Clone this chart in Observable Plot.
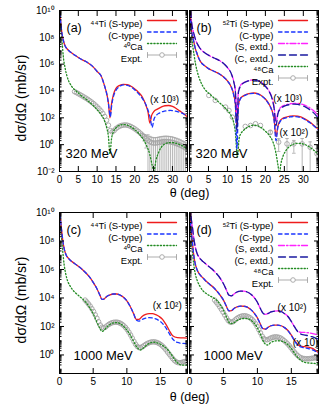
<!DOCTYPE html>
<html><head><meta charset="utf-8">
<script src="https://cdn.jsdelivr.net/npm/d3@7"></script>
<script src="https://cdn.jsdelivr.net/npm/@observablehq/plot@0.6"></script>
<style>
body{margin:0;background:#fff;}
#fig{position:relative;width:329px;height:413px;background:#fff;overflow:hidden;}
#fig svg{position:absolute;left:0;}
</style></head><body><div id="fig"></div>
<script>
// ===== DATA: values, given as log10 of dσ/dΩ (mb/sr), scale factors included =====
// ---- panel (a) 320 MeV, 44Ti / 40Ca ----
const aThetaS = [0,0.3,0.6,1,1.5,2,2.5,3,4,5,6,7,8,9,10,11,12,12.5,13,13.4,13.8,14.3,15,16,17,18,19,20,21,22,23,23.5,24,24.5,25,26,27,28,29,30,31,32,33,34];
const aTiS = [10.3,9.2,8.4,7.8,7.35,7.15,7.0,6.88,6.68,6.5,6.33,6.2,6.02,5.78,5.45,5.15,4.35,3.85,3.1,2.0,3.0,3.7,4.2,4.42,4.5,4.47,4.35,4.15,3.9,3.55,2.9,2.45,1.6,2.2,2.45,2.65,2.8,2.9,2.92,2.85,2.7,2.5,2.3,2.05];
const aThetaC = [0,0.3,0.6,1,1.5,2,2.5,3,4,5,6,7,8,9,10,11,12,12.5,13,13.5,13.9,14.4,15,16,17,18,19,20,21,22,23,23.6,24.1,24.6,25.1,25.6,26.5,27.5,28.5,29.5,30.5,31.5,32.5,33.5,34];
const aTiC = [10.3,9.2,8.4,7.8,7.35,7.15,7.0,6.88,6.68,6.5,6.33,6.2,6.02,5.78,5.45,5.15,4.35,3.85,3.05,2.1,3.0,3.65,4.05,4.35,4.45,4.42,4.3,4.08,3.8,3.45,2.95,2.5,2.0,1.3,1.9,2.15,2.35,2.47,2.53,2.55,2.52,2.45,2.35,2.22,2.17];
const aThetaCa = [0,0.2,0.4,0.7,1,1.5,2,2.5,3,3.5,4,5,6,7,8,9,10,11,12,12.5,13,13.4,13.8,14.3,15,16,17,18,19,20,21,22,23,24,24.6,25.1,25.6,26.3,27,28,29,30,31,32,33,34];
const aCa = [10.2,9.3,8.5,7.6,6.6,5.7,5.1,4.7,4.45,4.25,4.1,3.85,3.6,3.4,3.15,2.9,2.6,2.25,1.75,1.3,0.6,-0.7,0.4,0.95,1.25,1.45,1.5,1.45,1.32,1.12,0.85,0.5,0.0,-0.75,-1.5,-1.95,-1.2,-0.6,-0.2,0.05,0.15,0.15,0.1,0.0,-0.15,-0.35];
const aExpTheta = [4,4.5,5,5.5,6,6.5,7,7.5,8,8.5,9,9.5,10,10.5,11,11.5,12,12.5,13,13.5,14,14.5,15,15.5,16,16.5,17,17.5,18,18.5,19,19.5,20,20.5,21,21.5,22,22.5,23,23.5,24,24.5,25,25.5,26,26.5,27,27.5,28,28.5,29,29.5,30,30.5,31,31.5,32,32.5,33,33.5,34];
const aExp = [3.95,3.88,3.8,3.72,3.64,3.55,3.47,3.38,3.28,3.18,3.07,2.95,2.82,2.68,2.52,2.33,2.1,1.82,1.45,1.05,0.95,1.05,1.2,1.3,1.38,1.43,1.46,1.47,1.45,1.41,1.35,1.27,1.18,1.08,0.97,0.85,0.72,0.58,0.45,0.33,0.22,0.15,0.12,0.12,0.14,0.17,0.2,0.22,0.23,0.23,0.22,0.2,0.17,0.13,0.08,0.03,-0.03,-0.1,-0.17,-0.25,-0.3];
const aExpRelErr = [0.1,0.1,0.1,0.1,0.1,0.1,0.1,0.1,0.1,0.1,0.1,0.1,0.1,0.1,0.1,0.1,0.1,0.1,0.1,0.1,0.1,0.1,0.1,0.1,0.1,0.1,0.1,0.1,0.1,0.1,0.1,0.1,0.1,0.1,0.15,0.2,0.3,0.5,0.8,1.5,1.5,1.5,1.5,1.5,1.5,1.5,1.5,1.5,1.5,1.5,1.5,1.5,1.5,1.5,1.5,1.5,1.5,1.5,1.5,1.5,1.5];

// ---- panel (b) 320 MeV, 52Ti / 48Ca ----
const bThetaTi = [0,0.3,0.6,1,1.5,2,2.5,3,4,5,6,7,8,9,10,11,11.6,12.1,12.5,12.9,13.4,14,15,16,17,18,19,20,21,21.8,22.3,22.8,23.3,23.8,24.5,25.5,26.5,27.5,28.5,29.5,30.5,31.5,32.5,33.5,34];
const bTiS  = [10.3,9.2,8.4,7.85,7.2,6.78,6.4,6.15,5.88,5.67,5.53,5.4,5.25,5.05,4.75,4.3,3.8,3.0,1.3,3.0,3.45,3.6,3.75,3.82,3.85,3.8,3.65,3.4,3.0,2.5,1.9,0.6,1.4,1.75,1.95,2.05,2.12,2.15,2.12,2.05,1.9,1.72,1.5,1.25,1.1];
const bTiC  = [10.3,9.2,8.4,7.85,7.2,6.78,6.4,6.15,5.88,5.67,5.53,5.4,5.25,5.05,4.75,4.3,3.75,2.9,-0.3,2.9,3.4,3.57,3.72,3.8,3.83,3.78,3.63,3.38,2.97,2.45,1.8,0.3,1.3,1.68,1.9,2.0,2.07,2.1,2.07,2.0,1.86,1.68,1.47,1.22,1.07];
const bTiSx = [10.8,9.9,9.0,8.45,7.9,7.55,7.3,7.1,6.85,6.67,6.52,6.4,6.25,6.05,5.75,5.3,4.8,4.0,2.3,4.0,4.4,4.57,4.72,4.8,4.83,4.78,4.63,4.38,3.98,3.45,2.8,1.7,2.4,2.7,2.87,2.98,3.05,3.08,3.07,3.02,2.93,2.78,2.58,2.3,2.12];
const bTiCx = [10.8,9.9,9.0,8.45,7.9,7.55,7.3,7.1,6.85,6.67,6.52,6.4,6.25,6.05,5.75,5.3,4.75,3.9,1.0,3.9,4.35,4.55,4.7,4.78,4.81,4.76,4.6,4.35,3.95,3.4,2.7,1.4,2.3,2.62,2.8,2.92,2.99,3.02,3.0,2.93,2.82,2.65,2.43,2.13,1.95];
const bThetaCa = [0,0.2,0.5,0.8,1.2,1.6,2,2.5,3,4,5,6,7,8,9,10,11,11.6,12.1,12.6,13.1,13.6,14,15,16,17,18,19,20,21,22,22.7,23.3,23.7,24.1,24.6,25.5,26.5,27.5,28.5,29.5,30.5,31.5,32.5,33.5,34];
const bCa = [10.3,9.3,8.3,7.5,6.7,6.0,5.5,5.0,4.65,4.15,3.85,3.6,3.35,3.1,2.85,2.55,2.15,1.7,0.9,-0.9,0.5,0.85,1.0,1.25,1.4,1.45,1.4,1.25,1.0,0.7,0.2,-0.5,-1.5,-2.2,-1.4,-0.9,-0.4,-0.1,0.05,0.1,0.08,0.0,-0.15,-0.35,-0.6,-0.75];
const bExpTheta = [5.1,6.8,9.5,10.4,11.3,14.7,16.1,17.4,18.7,21.3,23.5,25.7,27.5,29.7,31.8,33.6];
const bExp = [3.67,3.3,2.8,2.55,2.05,1.36,1.43,1.56,1.43,0.93,0.19,0.06,0.06,0.06,-0.19,-0.68];
const bExpRelErr = [0.1,0.1,0.1,0.1,0.1,0.1,0.1,0.1,0.1,0.3,0.8,1.5,0.8,1.5,1.5,1.5];

// ---- panel (c) 1000 MeV, 44Ti / 40Ca ----
const cThetaTi = [0,0.15,0.3,0.5,0.7,1,1.3,1.6,2,2.5,3,3.5,4,4.5,5,5.5,6,6.3,6.6,7,7.5,8,8.5,9,9.5,10,10.5,11,11.4,11.8,12.3,12.8,13.3,13.8,14.3,14.8,15.3,15.8,16.3,16.8,17.5,18.2,19];
const cTiS = [10.3,9.5,8.8,8.0,7.45,7.0,6.8,6.65,6.5,6.33,6.15,5.95,5.72,5.45,5.1,4.7,4.2,3.9,3.92,4.1,4.22,4.28,4.28,4.2,4.05,3.8,3.4,2.9,2.5,2.5,2.72,2.85,2.9,2.9,2.83,2.7,2.5,2.15,1.72,1.35,1.22,1.2,1.18];
const cTiC = [10.3,9.5,8.8,8.0,7.45,7.0,6.8,6.65,6.5,6.33,6.15,5.95,5.72,5.45,5.1,4.7,4.2,3.9,3.92,4.1,4.22,4.28,4.28,4.2,4.05,3.8,3.4,2.9,2.45,2.38,2.5,2.58,2.62,2.6,2.53,2.4,2.2,1.9,1.5,1.12,0.88,0.82,0.8];
const cThetaCa = [0,0.1,0.2,0.35,0.5,0.7,0.9,1.2,1.5,1.9,2.4,3,3.5,4,4.5,5,5.5,6,6.3,6.6,7,7.5,8,8.5,9,9.5,10,10.5,11,11.5,12,12.5,13,13.5,14,14.5,15,15.5,16,16.5,17,17.5,18,18.5,19];
const cCa = [10.2,9.6,8.9,8.0,7.2,6.3,5.75,5.2,4.9,4.6,4.35,4.1,3.9,3.65,3.3,2.9,2.35,1.85,1.65,1.72,1.95,2.15,2.25,2.27,2.2,2.02,1.75,1.4,0.95,0.55,0.35,0.5,0.72,0.85,0.9,0.85,0.75,0.6,0.4,0.1,-0.25,-0.55,-0.7,-0.72,-0.72];
const cExpTheta = [3.8,4.05,4.3,4.55,4.8,5.05,5.3,5.55,5.8,6.05,6.3,6.55,6.8,7.05,7.3,7.55,7.8,8.05,8.3,8.55,8.8,9.05,9.3,9.55,9.8,10.05,10.3,10.55,10.8,11.05,11.3,11.55,11.8,12.05,12.3,12.55,12.8,13.05,13.3,13.55,13.8,14.05,14.3,14.55,14.8,15.05,15.3,15.55,15.8,16.05,16.3,16.55,16.8,17.05,17.3,17.55,17.8,18.05,18.3,18.55,18.8];
const cExp = [3.85,3.72,3.58,3.43,3.25,3.05,2.82,2.58,2.33,2.1,1.95,1.9,1.95,2.05,2.14,2.21,2.26,2.29,2.3,2.3,2.27,2.22,2.15,2.05,1.93,1.78,1.6,1.4,1.18,0.95,0.75,0.6,0.52,0.52,0.58,0.66,0.74,0.81,0.86,0.9,0.92,0.92,0.9,0.86,0.8,0.72,0.62,0.5,0.36,0.2,0.05,-0.1,-0.25,-0.38,-0.48,-0.53,-0.55,-0.54,-0.5,-0.47,-0.45];

// ---- panel (d) 1000 MeV, 52Ti / 48Ca ----
const dThetaTi = [0,0.15,0.3,0.45,0.6,0.8,1.1,1.5,2,2.5,3,3.5,4,4.5,5,5.4,5.8,6.2,6.6,7,7.5,8,8.5,9,9.5,10,10.4,10.8,11.2,11.6,12,12.5,13,13.5,14,14.5,15,15.5,16,16.5,17,17.5,18,18.5,19];
const dTiS  = [10.2,9.3,8.5,7.8,7.1,6.5,6.0,5.65,5.4,5.15,4.95,4.75,4.5,4.2,3.85,3.45,3.1,3.12,3.28,3.38,3.43,3.42,3.36,3.2,2.95,2.6,2.2,1.85,1.82,1.95,2.05,2.1,2.1,2.05,1.92,1.72,1.4,1.0,0.7,0.6,0.58,0.55,0.48,0.35,0.15];
const dTiC  = [10.2,9.3,8.5,7.8,7.1,6.5,6.0,5.65,5.4,5.15,4.95,4.75,4.5,4.2,3.85,3.45,3.1,3.12,3.28,3.38,3.43,3.42,3.36,3.2,2.95,2.6,2.2,1.85,1.82,1.95,2.05,2.1,2.1,2.05,1.92,1.7,1.37,0.97,0.67,0.55,0.5,0.45,0.38,0.27,0.12];
const dTiSx = [10.5,10.0,9.4,8.9,8.3,7.7,7.15,6.8,6.55,6.35,6.15,5.95,5.7,5.4,5.0,4.6,4.2,4.15,4.3,4.42,4.48,4.48,4.42,4.28,4.05,3.7,3.3,2.95,2.85,2.92,3.02,3.08,3.1,3.05,2.9,2.7,2.35,1.95,1.65,1.58,1.58,1.56,1.52,1.47,1.4];
const dTiCx = [10.5,10.0,9.4,8.9,8.3,7.7,7.15,6.8,6.55,6.35,6.15,5.95,5.7,5.4,5.0,4.6,4.2,4.15,4.3,4.42,4.48,4.48,4.42,4.28,4.05,3.7,3.3,2.95,2.85,2.92,3.02,3.08,3.1,3.05,2.9,2.7,2.35,1.95,1.6,1.45,1.4,1.35,1.28,1.2,1.12];
const dThetaCa = [0,0.1,0.2,0.35,0.5,0.7,0.9,1.2,1.5,2,2.5,3,3.5,4,4.5,5,5.5,6,6.5,7,7.5,8,8.5,9,9.5,10,10.5,11,11.5,12,12.5,13,13.5,14,14.5,15,15.5,16,16.5,17,17.5,18,18.5,19];
const dCa = [10.2,9.4,8.6,7.7,6.9,6.1,5.6,5.15,4.85,4.5,4.3,4.15,4.02,3.85,3.55,3.15,2.6,2.2,2.25,2.42,2.52,2.56,2.55,2.45,2.25,1.9,1.4,0.85,0.7,0.88,0.97,1.0,0.98,0.9,0.72,0.45,0.1,-0.2,-0.42,-0.52,-0.56,-0.58,-0.6,-0.62];
const dExpTheta = [3.7,3.95,4.2,4.45,4.7,4.95,5.2,5.45,5.7,5.95,6.2,6.45,6.7,6.95,7.2,7.45,7.7,7.95,8.2,8.45,8.7,8.95,9.2,9.45,9.7,9.95,10.2,10.45,10.7,10.95,11.2,11.45,11.7,11.95,12.2,12.45,12.7,12.95,13.2,13.45,13.7,13.95,14.2,14.45,14.7,14.95,15.2,15.45,15.7,15.95,16.2,16.45,16.7,16.95,17.2,17.45,17.7,17.95,18.2,18.45,18.7,18.95];
const dExp = [3.85,3.7,3.55,3.38,3.2,3.0,2.8,2.6,2.42,2.32,2.3,2.35,2.45,2.55,2.63,2.69,2.73,2.75,2.75,2.72,2.67,2.6,2.5,2.37,2.2,2.0,1.78,1.55,1.32,1.15,1.07,1.07,1.12,1.18,1.23,1.26,1.27,1.26,1.23,1.18,1.1,1.0,0.9,0.78,0.65,0.5,0.35,0.2,0.07,-0.05,-0.14,-0.2,-0.24,-0.26,-0.27,-0.27,-0.26,-0.24,-0.22,-0.2,-0.2,-0.2];

// ---- axes / annotations ----
const xTicks320 = [0,5,10,15,20,25,30];
const xTicks1000 = [0,5,10,15];
const yTicks320 = [1e-2,1,1e2,1e4,1e6,1e8,1e10];
const yTicks1000 = [1,1e2,1e4,1e6,1e8,1e10];
const legendTi44 = ["⁴⁴Ti (S-type)","(C-type)","⁴⁰Ca","Expt."];
const legendTi52 = ["⁵²Ti (S-type)","(C-type)","(S, extd.)","(C, extd.)","⁴⁸Ca","Expt."];
const aNoteLabel = ["(x 10³)"], aNoteTheta = [27.9], aNoteLog = [3.37];
const bNoteLabel = ["(x 10³)","(x 10²)"], bNoteTheta = [25.9,27.5], bNoteLog = [3.44,0.91];
const cNoteLabel = ["(x 10²)"], cNoteTheta = [16.0], cNoteLog = [3.47];
const dNoteLabel = ["(x 10²)","(x 10)"], dNoteTheta = [15.1,17.1], dNoteLog = [3.33,0.88];

// ===== rendering =====
const FONT = "'Liberation Sans', Arial, Helvetica, sans-serif";
const gray = "#a4a4a4";
const styles = {
  S:  {stroke: "#ee1c1c", strokeWidth: 1.3},
  C:  {stroke: "#1a35ff", strokeWidth: 1.3, strokeDasharray: "3.5,3"},
  Sx: {stroke: "#ff22ff", strokeWidth: 1.3, strokeDasharray: "6,2,1.5,2"},
  Cx: {stroke: "#1a1aa0", strokeWidth: 1.3, strokeDasharray: "7,4"},
  Ca: {stroke: "#228b22", strokeWidth: 1.3, strokeDasharray: "1.2,2"}
};
const sup = {"-":"⁻","0":"⁰","1":"¹","2":"²","3":"³","4":"⁴","5":"⁵","6":"⁶","7":"⁷","8":"⁸","9":"⁹"};
const fmtPow = v => "10" + String(Math.round(Math.log10(v))).split("").map(c => sup[c]).join("");
const lineShape = {draw(ctx, l) { ctx.moveTo(0, 0); ctx.lineTo(0, -l); }};
const capSymbol = {draw(ctx, size) { const r = Math.sqrt(size / Math.PI); ctx.moveTo(-r, 0); ctx.lineTo(r, 0); }};
const rows = (theta, logs) => theta.map((t, i) => ({theta: t, v: 10 ** logs[i]}));
const expRows = (theta, logs, err) => theta.map((t, i) => ({theta: t, v: 10 ** logs[i], err: err ? err[i] : 0}));
const notes = (lab, th, lg) => lab.map((l, i) => ({label: l, theta: th[i], v: 10 ** lg[i]}));

function panel(cfg) {
  const [y0, y1] = cfg.yDomain;
  const minor = [];
  for (let e = Math.floor(Math.log10(y0)); e < 10; e++)
    for (let k = 1; k <= 9; k++) { const v = k * 10 ** e; if (v >= y0 && v <= y1 && !cfg.yTicks.includes(v)) minor.push(v); }
  const marks = [];
  const eb = cfg.exp.filter(d => d.err >= 0.3).map(d => ({theta: d.theta, hi: d.v * (1 + d.err), lo: Math.max(d.v * (1 - d.err), 1e-4)}));
  if (eb.length) {
    marks.push(Plot.ruleX(eb, {x: "theta", y1: "lo", y2: "hi", stroke: gray, strokeWidth: 0.8, clip: true}));
    marks.push(Plot.dot(eb, {x: "theta", y: "hi", symbol: capSymbol, r: 1.8, stroke: gray, fill: "none", strokeWidth: 0.8, clip: true}));
    marks.push(Plot.dot(eb, {x: "theta", y: "lo", symbol: capSymbol, r: 1.8, stroke: gray, fill: "none", strokeWidth: 0.8, clip: true}));
  }
  marks.push(Plot.dot(cfg.exp, {x: "theta", y: "v", r: 2.3, stroke: gray, strokeWidth: 0.9, fill: "none", clip: true}));
  for (const c of cfg.curves) marks.push(Plot.line(c.data, {x: "theta", y: "v", curve: "monotone-x", clip: true, ...styles[c.style]}));
  // frame and ticks
  marks.push(Plot.frame({stroke: "black", strokeWidth: 1}));
  marks.push(Plot.axisX(cfg.xTicks, {anchor: "bottom", tickSize: 0, tickPadding: 4, label: null, fontSize: 10}));
  for (const anchor of ["bottom", "top"]) marks.push(Plot.axisX(cfg.xTicks, {anchor, tickSize: -5, fill: "none", label: null}));
  if (cfg.yLabels) marks.push(Plot.axisY(cfg.yTicks, {anchor: "left", tickSize: 0, tickPadding: 5, tickFormat: fmtPow, label: null, fontSize: 10}));
  for (const anchor of ["left", "right"]) {
    marks.push(Plot.axisY(cfg.yTicks, {anchor, tickSize: -5, fill: "none", label: null}));
    marks.push(Plot.axisY(minor, {anchor, tickSize: -2.5, fill: "none", label: null}));
  }
  // legend
  cfg.legend.forEach((lab, i) => {
    const dy = 10 + i * 11.5;
    const st = cfg.legendStyles[i];
    marks.push(Plot.text([lab], {frameAnchor: "top-right", dx: -45, dy, text: d => d, textAnchor: "end", fontSize: 9.5}));
    if (st === "exp") {
      marks.push(Plot.vector([0], {frameAnchor: "top-right", dx: -40, dy, length: 29, rotate: 90, anchor: "start", shape: lineShape, stroke: gray, strokeWidth: 0.9}));
      marks.push(Plot.vector([0], {frameAnchor: "top-right", dx: -40, dy, length: 5, rotate: 0, anchor: "middle", shape: lineShape, stroke: gray, strokeWidth: 0.9}));
      marks.push(Plot.vector([0], {frameAnchor: "top-right", dx: -11, dy, length: 5, rotate: 0, anchor: "middle", shape: lineShape, stroke: gray, strokeWidth: 0.9}));
      marks.push(Plot.dot([0], {frameAnchor: "top-right", dx: -25.5, dy, r: 2.3, stroke: gray, fill: "white", strokeWidth: 0.9}));
    } else {
      marks.push(Plot.vector([0], {frameAnchor: "top-right", dx: -40, dy, length: 29, rotate: 90, anchor: "start", shape: lineShape, ...styles[st]}));
    }
  });
  marks.push(Plot.text([cfg.tag], {frameAnchor: "top-left", dx: 7, dy: 13, text: d => d, textAnchor: "start", fontSize: 12.5}));
  marks.push(Plot.text([cfg.energy], {frameAnchor: "bottom-left", dx: cfg.energyDx, dy: -14, text: d => d, textAnchor: "start", fontSize: 13}));
  marks.push(Plot.text(cfg.notes, {x: "theta", y: "v", text: "label", fontSize: 10, textAnchor: "middle"}));
  if (cfg.yLabels) marks.push(Plot.text(["dσ/dΩ (mb/sr)"], {frameAnchor: "left", dx: -38, dy: 7, rotate: -90, text: d => d, fontSize: 14, textAnchor: "middle"}));
  if (cfg.xLabelDy) marks.push(Plot.text(["θ (deg)"], {frameAnchor: "bottom-left", dy: cfg.xLabelDy, text: d => d, fontSize: 12.5, textAnchor: "middle"}));
  return Plot.plot({
    width: 329, height: cfg.height, marginLeft: cfg.ml, marginRight: cfg.mr, marginTop: 10, marginBottom: cfg.mb,
    x: {domain: cfg.xDomain, axis: null}, y: {type: "log", domain: cfg.yDomain, axis: null},
    style: {background: "transparent", fontFamily: FONT, fontSize: "10px", overflow: "visible", color: "black"},
    marks
  });
}

const ti44Styles = ["S", "C", "Ca", "exp"];
const ti52Styles = ["S", "C", "Sx", "Cx", "Ca", "exp"];
const panels = [
  {top: 0, height: 202, mb: 31, ml: 59, mr: 142, xDomain: [0, 34], xTicks: xTicks320, yDomain: [1e-2, 1e10], yTicks: yTicks320, yLabels: true,
   curves: [{data: rows(aThetaCa, aCa), style: "Ca"}, {data: rows(aThetaS, aTiS), style: "S"}, {data: rows(aThetaC, aTiC), style: "C"}],
   exp: expRows(aExpTheta, aExp, aExpRelErr), legend: legendTi44, legendStyles: ti44Styles, tag: "(a)", energy: "320 MeV", energyDx: 6,
   notes: notes(aNoteLabel, aNoteTheta, aNoteLog)},
  {top: 0, height: 202, mb: 31, ml: 189, mr: 11, xDomain: [0, 34], xTicks: xTicks320, yDomain: [1e-2, 1e10], yTicks: yTicks320, yLabels: false, xLabelDy: 25,
   curves: [{data: rows(bThetaCa, bCa), style: "Ca"}, {data: rows(bThetaTi, bTiS), style: "S"}, {data: rows(bThetaTi, bTiC), style: "C"},
            {data: rows(bThetaTi, bTiSx), style: "Sx"}, {data: rows(bThetaTi, bTiCx), style: "Cx"}],
   exp: expRows(bExpTheta, bExp, bExpRelErr), legend: legendTi52, legendStyles: ti52Styles, tag: "(b)", energy: "320 MeV", energyDx: 6,
   notes: notes(bNoteLabel, bNoteTheta, bNoteLog)},
  {top: 202, height: 211, mb: 40, ml: 59, mr: 142, xDomain: [0, 19], xTicks: xTicks1000, yDomain: [0.05, 1e10], yTicks: yTicks1000, yLabels: true,
   curves: [{data: rows(cThetaCa, cCa), style: "Ca"}, {data: rows(cThetaTi, cTiS), style: "S"}, {data: rows(cThetaTi, cTiC), style: "C"}],
   exp: expRows(cExpTheta, cExp, null), legend: legendTi44, legendStyles: ti44Styles, tag: "(c)", energy: "1000 MeV", energyDx: 14,
   notes: notes(cNoteLabel, cNoteTheta, cNoteLog)},
  {top: 202, height: 211, mb: 40, ml: 189, mr: 11, xDomain: [0, 19], xTicks: xTicks1000, yDomain: [0.05, 1e10], yTicks: yTicks1000, yLabels: false, xLabelDy: 27,
   curves: [{data: rows(dThetaCa, dCa), style: "Ca"}, {data: rows(dThetaTi, dTiS), style: "S"}, {data: rows(dThetaTi, dTiC), style: "C"},
            {data: rows(dThetaTi, dTiSx), style: "Sx"}, {data: rows(dThetaTi, dTiCx), style: "Cx"}],
   exp: expRows(dExpTheta, dExp, null), legend: legendTi52, legendStyles: ti52Styles, tag: "(d)", energy: "1000 MeV", energyDx: 14,
   notes: notes(dNoteLabel, dNoteTheta, dNoteLog)}
];
const fig = document.getElementById("fig");
for (const p of panels) {
  const svg = panel(p);
  svg.style.position = "absolute";
  svg.style.top = p.top + "px";
  svg.style.left = "0px";
  fig.appendChild(svg);
}
</script>
</body></html>
